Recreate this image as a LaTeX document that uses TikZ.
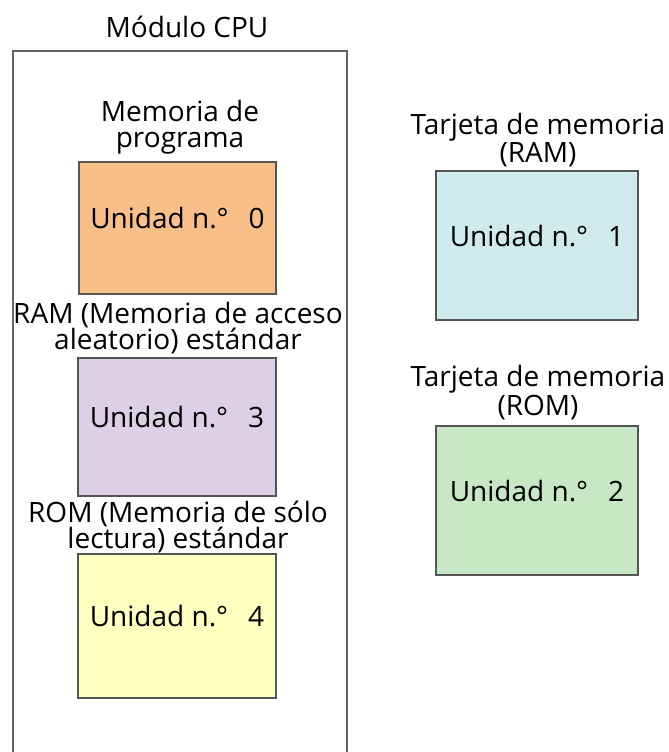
\documentclass[tikz,border=0pt]{standalone}
\usepackage{fontspec}
\setmainfont{Open Sans}
\usetikzlibrary{positioning}

\definecolor{progfill}{RGB}{248,192,136}
\definecolor{ramfill}{RGB}{221,208,230}
\definecolor{romfill}{RGB}{255,255,192}
\definecolor{cardramfill}{RGB}{207,235,238}
\definecolor{cardromfill}{RGB}{200,232,197}
\definecolor{boxline}{RGB}{85,85,85}

\begin{document}
\begin{tikzpicture}[x=1pt,y=-1pt,
    unitbox/.style={draw=boxline, line width=2pt, inner sep=0pt,
                    text depth=20pt, font=\fontsize{28}{26}\selectfont},
    areatext/.style={align=center, inner sep=0pt, anchor=base,
                     font=\fontsize{28}{26}\selectfont}]

\useasboundingbox (0,0) rectangle (669,752);

% STEP 1: The CPU module frame (runs off the bottom edge).
\node[draw=boxline!90, line width=2pt, minimum width=334pt, minimum height=740pt,
      anchor=north west] (cpu) at (12,50) {};
\node[areatext] (cputitle) at (187,38) {Módulo CPU};

% STEP 2: Memory areas inside the CPU module.
\node[unitbox, fill=progfill, minimum width=197pt, minimum height=132pt]
      (u0) at (177.5,228) {Unidad n.°\hspace{20pt}0};
\node[unitbox, fill=ramfill, minimum width=198pt, minimum height=138pt]
      (u3) at (177,427) {Unidad n.°\hspace{20pt}3};
\node[unitbox, fill=romfill, minimum width=198pt, minimum height=144pt]
      (u4) at (177,626) {Unidad n.°\hspace{20pt}4};

% labels: anchored at the baseline of their last line
\node[areatext] (lab0) at (180,147) {Memoria de\\programa};
\node[areatext] (lab3) at (178,349) {RAM (Memoria de acceso\\aleatorio) estándar};
\node[areatext] (lab4) at (178,548) {ROM (Memoria de sólo\\lectura) estándar};

% STEP 3: Memory cards.
\node[unitbox, fill=cardramfill, minimum width=202pt, minimum height=149pt]
      (u1) at (537,245.5) {Unidad n.°\hspace{20pt}1};
\node[unitbox, fill=cardromfill, minimum width=202pt, minimum height=149pt]
      (u2) at (537,500.5) {Unidad n.°\hspace{20pt}2};

\node[areatext] (lab1) at (538,162) {Tarjeta de memoria\\(RAM)};
\node[areatext] (lab2) at (538,415) {Tarjeta de memoria\\(ROM)};

\end{tikzpicture}
\end{document}
